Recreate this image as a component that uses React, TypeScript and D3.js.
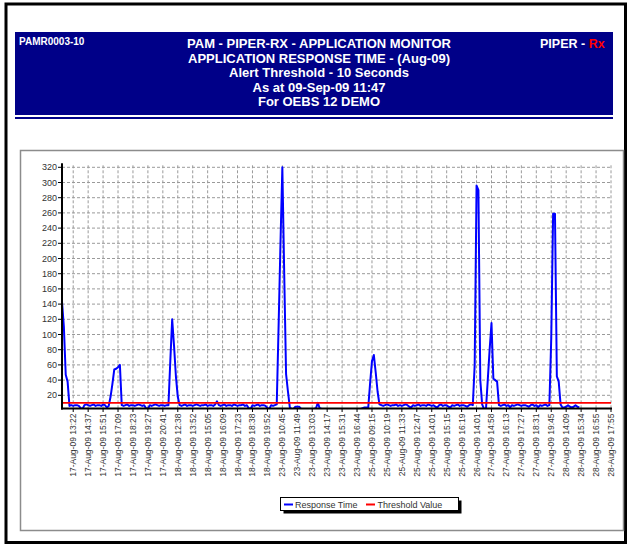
import React from "react";
import * as d3 from "d3";

// ---- data ----
const timeLabels: string[] = [
  "17-Aug-09 13:22", "17-Aug-09 14:37", "17-Aug-09 15:51", "17-Aug-09 17:09", "17-Aug-09 18:23", "17-Aug-09 19:27", "17-Aug-09 20:41",
  "18-Aug-09 12:38", "18-Aug-09 13:52", "18-Aug-09 15:05", "18-Aug-09 16:09", "18-Aug-09 17:23", "18-Aug-09 18:38", "18-Aug-09 19:52",
  "23-Aug-09 10:45", "23-Aug-09 11:49", "23-Aug-09 13:03", "23-Aug-09 14:17", "23-Aug-09 15:31", "23-Aug-09 16:44",
  "25-Aug-09 09:15", "25-Aug-09 10:19", "25-Aug-09 11:33", "25-Aug-09 12:47", "25-Aug-09 14:01", "25-Aug-09 15:15", "25-Aug-09 16:19",
  "26-Aug-09 14:01",
  "27-Aug-09 14:58", "27-Aug-09 16:13", "27-Aug-09 17:27", "27-Aug-09 18:31", "27-Aug-09 19:45",
  "28-Aug-09 14:09", "28-Aug-09 15:34", "28-Aug-09 16:55", "28-Aug-09 17:55",
];
// samples between labelled points
const samplesPerLabel = 8;
const firstLabelSample = 6;
const totalSamples = 295;

const responseTime: number[] = [
  143, 110, 47, 38, 6, 7, 6, 7,
  7, 6, 3, 2, 7, 8, 7, 6,
  7, 8, 6, 7, 7, 6, 8, 7,
  4, 6, 18, 35, 54, 55, 57, 60,
  7, 6, 7, 8, 6, 7, 7, 6,
  7, 8, 7, 6, 7, 3, 2, 7,
  6, 7, 8, 7, 6, 7, 7, 6,
  7, 7, 65, 120, 85, 45, 18, 7,
  6, 7, 8, 6, 7, 7, 6, 7,
  8, 7, 6, 7, 7, 8, 6, 7,
  7, 6, 8, 12, 7, 6, 7, 8,
  6, 7, 7, 6, 8, 7, 6, 7,
  7, 8, 6, 7, 3, 2, 7, 6,
  7, 8, 6, 7, 7, 6, 3, 2,
  7, 6, 7, 8, 112, 220, 320, 180,
  48, 25, 4, 2, 2, 5, 5, 5,
  2, 1, 2, 1, 2, 2, 1, 2,
  3, 10, 3, 2, 1, 2, 1, 2,
  2, 1, 2, 2, 1, 2, 1, 2,
  1, 2, 2, 1, 2, 1, 2, 2,
  2, 3, 4, 4, 4, 36, 65, 73,
  50, 25, 8, 7, 6, 7, 8, 7,
  6, 7, 7, 8, 6, 7, 6, 7,
  8, 7, 5, 4, 7, 6, 7, 8,
  6, 7, 7, 6, 8, 7, 6, 7,
  5, 4, 7, 8, 6, 7, 7, 5,
  4, 7, 6, 7, 8, 6, 7, 7,
  6, 5, 7, 8, 7, 60, 296, 290,
  40, 8, 2, 0, 40, 80, 115, 42,
  40, 38, 7, 6, 7, 8, 6, 7,
  4, 7, 6, 7, 8, 7, 6, 7,
  7, 6, 5, 7, 8, 6, 7, 4,
  7, 6, 7, 8, 6, 7, 95, 259,
  259, 45, 38, 8, 4, 4, 5, 7,
  5, 4, 5, 7, 5, 4,
];
const thresholdValue = 10;
const yTicks: number[] = [20, 40, 60, 80, 100, 120, 140, 160, 180, 200, 220, 240, 260, 280, 300, 320];

const titleLines: string[] = [
  "PAM - PIPER-RX - APPLICATION MONITOR",
  "APPLICATION RESPONSE TIME - (Aug-09)",
  "Alert Threshold - 10 Seconds",
  "As at 09-Sep-09 11:47",
  "For OEBS 12 DEMO",
];

const FONT = "'Liberation Sans', Arial, sans-serif";

export default function App() {
  const W = 629, H = 546;
  const left = 62, right = 611, top = 167.3, zeroY = 410.5, axisY = 408.5;
  const x = d3.scaleLinear().domain([0, totalSamples - 1]).range([left, right]);
  const y = d3.scaleLinear().domain([0, 320]).range([zeroY, top]);

  const line = d3
    .line<number>()
    .x((_, i) => x(i))
    .y((d) => y(d));

  const tickIdx = timeLabels.map((_, k) => firstLabelSample + k * samplesPerLabel);

  return (
    <svg
      width={W}
      height={H}
      style={{ position: "absolute", left: 0, top: 0, background: "#fff" }}
      fontFamily={FONT}
    >
      <defs>
        <clipPath id="plotClip">
          <rect x={left} y={150} width={right - left + 2} height={axisY - 150} />
        </clipPath>
      </defs>
      {/* outer frame */}
      <rect x={6} y={4} width={619.5} height={538.5} fill="none" stroke="#000" strokeWidth={3} />

      {/* header */}
      <rect x={15} y={32} width={598} height={83} fill="#000088" />
      <rect x={15} y={117} width={598} height={2} fill="#000088" />
      <text x={19} y={45} fill="#fff" fontSize={10} fontWeight="bold">PAMR0003-10</text>
      {titleLines.map((t, i) => (
        <text key={i} x={319} y={48 + i * 14.6} fill="#fff" fontSize={13} fontWeight="bold" textAnchor="middle">
          {t}
        </text>
      ))}
      <text x={540} y={48} fill="#fff" fontSize={12.5} fontWeight="bold">
        PIPER - <tspan fill="#ff0000">Rx</tspan>
      </text>

      {/* chart panel */}
      <rect x={20.5} y={150.5} width={603} height={380} fill="#fff" stroke="#8c8c8c" strokeWidth={1.5} />

      {/* grid */}
      {yTicks.map((v) => (
        <line key={"h" + v} x1={left} x2={right} y1={y(v)} y2={y(v)} stroke="#9a9a9a" strokeWidth={1} strokeDasharray="3,2" />
      ))}
      {tickIdx.map((ti, k) => (
        <line key={"v" + k} x1={x(ti)} x2={x(ti)} y1={top - 2} y2={axisY} stroke="#9a9a9a" strokeWidth={1} strokeDasharray="3,2" />
      ))}

      {/* response time line */}
      <path d={line(responseTime) || ""} fill="none" stroke="#0000ff" strokeWidth={2} clipPath="url(#plotClip)" strokeLinejoin="round" />

      {/* threshold */}
      <line x1={left} x2={right} y1={y(thresholdValue)} y2={y(thresholdValue)} stroke="#ff0000" strokeWidth={1.6} />

      {/* axes */}
      <line x1={left} x2={left} y1={top - 4} y2={axisY + 1} stroke="#000" strokeWidth={2} />
      <line x1={left - 1} x2={right + 1} y1={axisY} y2={axisY} stroke="#000" strokeWidth={2} />
      {yTicks.map((v) => (
        <g key={"yt" + v}>
          <line x1={left - 4} x2={left} y1={y(v)} y2={y(v)} stroke="#000" strokeWidth={1} />
          <text x={left - 5} y={y(v)} dy="0.35em" fontSize={9} fill="#333" textAnchor="end">{v}</text>
        </g>
      ))}
      {tickIdx.map((ti, k) => (
        <g key={"xt" + k}>
          <line x1={x(ti)} x2={x(ti)} y1={axisY} y2={axisY + 3.5} stroke="#000" strokeWidth={1} />
          <text
            transform={`translate(${x(ti)},${axisY + 5}) rotate(-90)`}
            dy="0.35em"
            fontSize={8.5}
            fill="#333"
            textAnchor="end"
          >
            {timeLabels[k]}
          </text>
        </g>
      ))}

      {/* legend */}
      <rect x={283.5} y={500.5} width={178} height={13} fill="#000" />
      <rect x={280.5} y={497.5} width={178} height={13} fill="#fff" stroke="#000" strokeWidth={1} />
      <line x1={284} x2={293} y1={504.5} y2={504.5} stroke="#0000ff" strokeWidth={2} />
      <text x={295} y={507.5} fontSize={9} fill="#333">Response Time</text>
      <line x1={366} x2={375} y1={504.5} y2={504.5} stroke="#ff0000" strokeWidth={2} />
      <text x={377.5} y={507.5} fontSize={9} fill="#333">Threshold Value</text>
    </svg>
  );
}
